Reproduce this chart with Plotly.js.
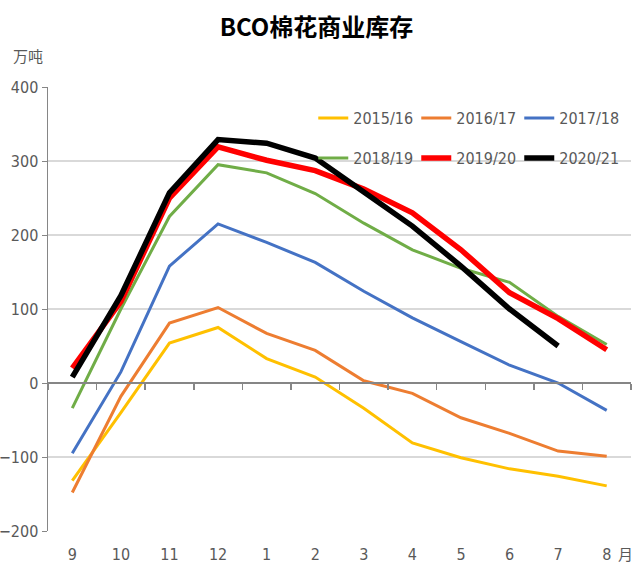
<!DOCTYPE html>
<html>
<head>
<meta charset="utf-8">
<script src="https://cdn.plot.ly/plotly-3.0.1.min.js"></script>
<style>
  html, body { margin: 0; padding: 0; background: #fff; }
  #chart { width: 633px; height: 569px; }
</style>
</head>
<body>
<div id="chart"></div>
<script>
// months of the cotton season
var months = ['9', '10', '11', '12', '1', '2', '3', '4', '5', '6', '7', '8'];

// commercial stock, 10k tonnes
var s1516 = [-132, -40, 54, 75, 33, 8, -34, -81, -101, -116, -126, -139];
var s1617 = [-148, -18, 81, 102, 67, 44, 3, -14, -47, -68, -92, -99];
var s1718 = [-95, 15, 158, 215, 190, 163, 124, 88, 56, 24, 0, -37];
var s1819 = [-34, 100, 225, 295, 284, 256, 216, 180, 155, 136, 90, 52];
var s1920 = [20, 110, 250, 319, 301, 287, 262, 230, 180, 122, 87, 45];
var s2021 = [8, 118, 257, 329, 324, 304, 258, 212, 158, 100, 50];

var seasons = ['2015/16', '2016/17', '2017/18', '2018/19', '2019/20', '2020/21'];
var values = [s1516, s1617, s1718, s1819, s1920, s2021];
var colors = ['#FFC000', '#ED7D31', '#4472C4', '#70AD47', '#FF0000', '#000000'];
var widths = [3, 3, 3, 3, 5.5, 5.5];

var grey = '#595959';
var font = 'Liberation Sans Narrow, DejaVu Sans Condensed, Arial, sans-serif';

var data = [];
for (var i = 0; i < seasons.length; i++) {
  data.push({
    type: 'scatter',
    mode: 'lines',
    name: seasons[i],
    x: months.slice(0, values[i].length),
    y: values[i],
    line: { color: colors[i], width: widths[i] },
    legend: i < 3 ? 'legend' : 'legend2'
  });
}
// empty trace so the label axis gets drawn
data.push({ type: 'scatter', mode: 'lines', x: [null], y: [null], xaxis: 'x2', showlegend: false, hoverinfo: 'skip' });

var legendBase = {
  orientation: 'h',
  bgcolor: 'rgba(0,0,0,0)',
  font: { family: font, size: 16, color: grey },
  entrywidth: 58,
  entrywidthmode: 'pixels',
  xanchor: 'left',
  yanchor: 'middle',
  x: 0.455
};

var layout = {
  width: 633,
  height: 569,
  margin: { l: 48, r: 2, t: 87, b: 38 },
  paper_bgcolor: '#fff',
  plot_bgcolor: '#fff',
  showlegend: true,
  font: { family: font, color: grey },
  title: {
    text: '<b>BCO棉花商业库存</b>',
    font: { family: 'Noto Sans CJK SC, sans-serif', size: 24, color: '#000' },
    x: 0.5, xref: 'container', xanchor: 'center',
    y: 0.952, yref: 'container', yanchor: 'middle'
  },
  legend: Object.assign({}, legendBase, { y: 0.93 }),
  legend2: Object.assign({}, legendBase, { y: 0.84 }),
  // axis line at zero with ticks between months
  xaxis: {
    type: 'category',
    categoryarray: months,
    range: [-0.5, 11.5],
    anchor: 'free',
    position: 1 / 3,
    tickson: 'boundaries',
    showticklabels: false,
    ticks: 'outside',
    ticklen: 6,
    tickwidth: 1.5,
    tickcolor: '#868686',
    showline: true,
    linecolor: '#868686',
    linewidth: 2,
    showgrid: false,
    zeroline: false,
    fixedrange: true
  },
  // month labels along the bottom
  xaxis2: {
    overlaying: 'x',
    anchor: 'y',
    side: 'bottom',
    range: [-0.5, 11.5],
    tickmode: 'array',
    tickvals: [0, 1, 2, 3, 4, 5, 6, 7, 8, 9, 10, 11],
    ticktext: months,
    ticks: '',
    ticklabelstandoff: 12,
    tickfont: { family: font, size: 16, color: grey },
    showline: false,
    showgrid: false,
    zeroline: false,
    fixedrange: true
  },
  yaxis: {
    range: [-200, 400],
    dtick: 100,
    showgrid: true,
    gridcolor: '#d9d9d9',
    gridwidth: 1.5,
    zeroline: false,
    showline: true,
    linecolor: '#868686',
    linewidth: 1.5,
    ticks: 'outside',
    ticklen: 5,
    tickcolor: '#868686',
    tickfont: { family: font, size: 16, color: grey },
    fixedrange: true
  },
  annotations: [
    {
      text: '万吨', xref: 'paper', yref: 'paper', x: -0.035, y: 1.072,
      xanchor: 'center', yanchor: 'middle', showarrow: false,
      font: { family: 'Noto Sans CJK SC, sans-serif', size: 15, color: grey }
    },
    {
      text: '月', xref: 'paper', yref: 'paper', x: 0.99, y: -0.05,
      xanchor: 'center', yanchor: 'middle', showarrow: false,
      font: { family: 'Noto Sans CJK SC, sans-serif', size: 15, color: grey }
    }
  ]
};

Plotly.newPlot('chart', data, layout, { displayModeBar: false, staticPlot: true });
</script>
</body>
</html>
